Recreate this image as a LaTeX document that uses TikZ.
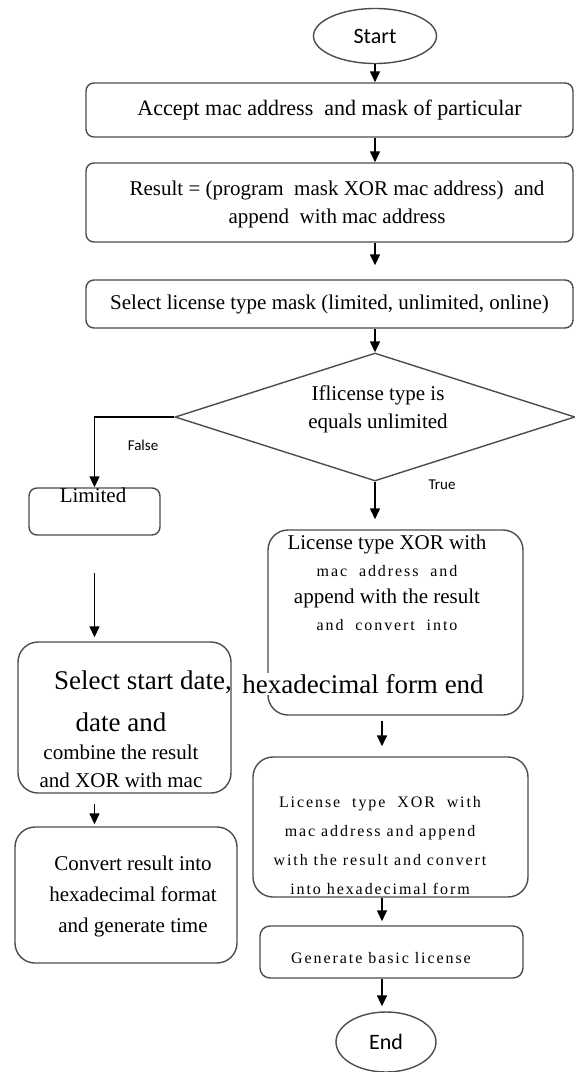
\documentclass[tikz,border=0pt]{standalone}
\usepackage{fontspec}
\setmainfont{Liberation Serif}
\newfontfamily\carlito{Carlito}
\newfontfamily\spaced[LetterSpace=12]{Liberation Serif}
\usetikzlibrary{shapes.geometric,arrows.meta}

\tikzset{
  box/.style={draw=black!70, line width=1.4pt, rounded corners=8pt, inner sep=0pt},
  softbox/.style={box, rounded corners=20pt},
  term/.style={draw=black!70, line width=1.4pt, ellipse, inner sep=0pt,
    font=\carlito\fontsize{22}{22}\selectfont},
  decision/.style={draw=black!70, line width=1.4pt, diamond, aspect=3.1, inner sep=0pt},
  flow/.style={-{Triangle[length=11pt,width=10pt]}, line width=1.4pt},
  txt/.style={align=center, inner sep=0pt, font=\fontsize{21}{28}\selectfont},
  bigtxt/.style={align=center, inner sep=0pt, font=\fontsize{27}{28}\selectfont},
  sptxt/.style={align=center, inner sep=0pt, font=\spaced\fontsize{16}{29}\selectfont},
  tag/.style={inner sep=0pt, font=\carlito\fontsize{15}{15}\selectfont}
}

\begin{document}
\begin{tikzpicture}[x=1pt, y=-1pt]
\useasboundingbox (0,0) rectangle (575,1072);

% start and the main column
\node[term, minimum width=123pt, minimum height=55pt] (start) at (375,36) {Start};
\node[box, txt, font=\fontsize{22}{28}\selectfont, minimum width=487pt, minimum height=54pt]
  (accept) at (329.5,110) {Accept mac address\ \ and mask of particular};
\node[box, minimum width=487pt, minimum height=79pt] (result) at (329.5,202.5) {};
\node[txt] (result-t) at (337,204)
  {Result = (program\ \ mask XOR mac address)\ \ and\\append\ \ with mac address};
\node[box, txt, minimum width=487pt, minimum height=48pt] (select) at (329.5,304)
  {Select license type mask (limited, unlimited, online)};

% decision
\node[decision, minimum width=400pt, minimum height=128pt] (dec) at (375,417) {};
\node[txt] (dec-t) at (378,409) {Iflicense type is\\equals unlimited};
\node[tag] (false-t) at (143,445) {False};
\node[tag] (true-t) at (442,485) {True};

% false branch
\node[box, minimum width=131pt, minimum height=47pt] (limited) at (94.5,511.5) {};
\node[txt] (limited-t) at (93,495) {Limited};
\node[softbox, minimum width=213pt, minimum height=151pt] (sel2) at (124.5,717.5) {};
\node[softbox, minimum width=222pt, minimum height=136pt] (conv) at (126,895) {};
\node[txt, font=\fontsize{21}{31}\selectfont] (conv-t) at (133,896)
  {Convert result into\\hexadecimal format\\and generate time};

% true branch
\coordinate (rcol) at (382,0);
\node[softbox, minimum width=255pt, minimum height=185pt] (lic1) at (395.5,622.5) {};
\node[txt, font=\fontsize{21}{27}\selectfont] (lic1-t) at (387,583)
  {License type XOR with\\{\spaced\fontsize{16}{27}\selectfont mac\ \ address\ \ and}\\
   append with the result\\{\spaced\fontsize{16}{27}\selectfont and\ \ convert\ \ into}};
\node[softbox, minimum width=275pt, minimum height=140pt] (lic2) at (390.5,827) {};
\node[sptxt] (lic2-t) at (380,846)
  {License\ \ type\ \ XOR\ \ with\\mac address and append\\with the result and convert\\into hexadecimal form};
\node[box, rounded corners=10pt, minimum width=263pt, minimum height=52pt] (gen) at (391.5,952) {};
\node[sptxt] (gen-t) at (381,958) {Generate basic license};
\node[term, minimum width=100pt, minimum height=60pt] (finish) at (386,1042) {End};

% overlapping lines of the two middle boxes
\node[bigtxt] (sel2-a) at (143,682) {Select start date,};
\node[bigtxt, fill=white, inner sep=1pt] (hex-t) at (363,684) {hexadecimal form end};
\node[txt] (sel2-b) at (121,750)
  {{\fontsize{27}{28}\selectfont date and}\\combine the result\\and XOR with mac};

% connectors
\draw[flow] (start.south) -- (start.south |- accept.north);
\draw[flow] (accept.south -| start) -- (result.north -| start);
\draw[flow, shorten >=14pt] (result.south -| start) -- (select.north -| start);
\draw[flow] (select.south -| start) -- (dec.north);
\draw[flow] (dec.west) -| (limited.north);
\draw[flow, shorten >=10pt] (dec.south) -- (dec.south |- lic1.north);
\draw[flow, shorten <=37pt, shorten >=4pt] (limited.south) -- (limited.south |- sel2.north);
\draw[flow, shorten <=10pt, shorten >=2pt] (sel2.south -| limited) -- (conv.north -| limited);
\draw[flow, shorten <=5pt, shorten >=10pt] (lic1.south -| rcol) -- (lic2.north -| rcol);
\draw[flow, shorten >=4pt] (lic2.south -| rcol) -- (gen.north -| rcol);
\draw[flow, shorten >=5pt] (gen.south -| rcol) -- (finish.north -| rcol);

\end{tikzpicture}
\end{document}
